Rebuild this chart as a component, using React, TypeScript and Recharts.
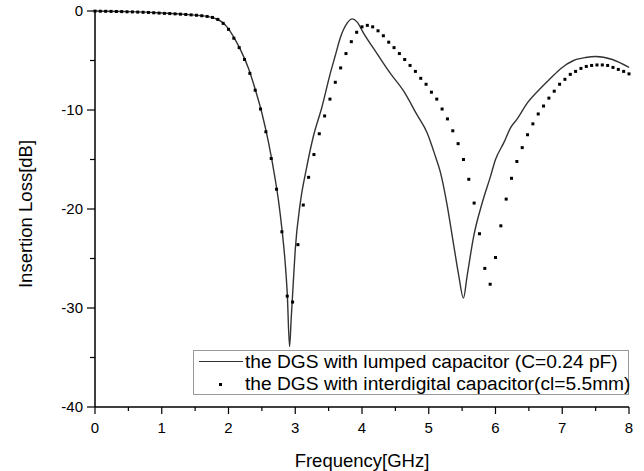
import { ComposedChart, Line, Scatter, XAxis, YAxis } from 'recharts'

// lumped capacitor curve (solid)
const lumpedFreq = [
  0, 0.5, 1.0, 1.4, 1.6, 1.7, 1.8, 1.9, 2.0, 2.1, 2.2, 2.3, 2.4, 2.5, 2.6, 2.7, 2.75, 2.8, 2.85, 2.88,
  2.915, 2.94, 2.97, 3.0, 3.075, 3.165, 3.27, 3.4, 3.525, 3.6, 3.675, 3.775, 3.855, 3.925, 4.025, 4.225,
  4.425, 4.625, 4.825, 4.975, 5.1, 5.175, 5.27, 5.375, 5.45, 5.52, 5.575, 5.675, 5.8, 5.925, 6.0, 6.125,
  6.225, 6.325, 6.475, 6.675, 6.825, 6.98, 7.17, 7.35, 7.5, 7.75, 8.0,
]
const lumpedLoss = [
  0, -0.06, -0.2, -0.37, -0.48, -0.57, -0.75, -1.1, -1.8, -2.9, -4.2, -5.8, -7.9, -10.3, -13.3, -17.0, -19.2, -22.0, -25.5, -28.5,
  -33.9, -31.0, -27.5, -24.1, -19.4, -16.0, -12.7, -9.7, -6.3, -4.5, -2.7, -1.25, -0.8, -1.1, -2.25, -4.3,
  -6.3, -8.1, -10.5, -12.3, -14.7, -16.3, -19.4, -23.7, -26.75, -29.0, -26.75, -22.7, -19.4, -16.7, -15.0, -13.3,
  -11.8, -10.9, -9.3, -7.8, -6.8, -5.8, -5.0, -4.7, -4.6, -4.9, -5.7,
]

// interdigital capacitor curve (dots)
const interFreq = [
  0, 0.08, 0.16, 0.24, 0.32, 0.4, 0.48, 0.56, 0.64, 0.72, 0.8, 0.88, 0.96, 1.04, 1.12, 1.2, 1.28, 1.36, 1.44, 1.52,
  1.6, 1.68, 1.76, 1.84, 1.92, 2.0, 2.08, 2.16, 2.24, 2.32, 2.4, 2.48, 2.56, 2.64, 2.72, 2.8, 2.88, 2.96, 3.04, 3.12,
  3.2, 3.28, 3.36, 3.44, 3.52, 3.6, 3.68, 3.76, 3.84, 3.92, 4.0, 4.08, 4.16, 4.24, 4.32, 4.4, 4.48, 4.56, 4.64, 4.72,
  4.8, 4.88, 4.96, 5.04, 5.12, 5.2, 5.28, 5.36, 5.44, 5.52, 5.6, 5.68, 5.76, 5.84, 5.92, 6.0, 6.08, 6.16, 6.24, 6.32,
  6.4, 6.48, 6.56, 6.64, 6.72, 6.8, 6.88, 6.96, 7.04, 7.12, 7.2, 7.28, 7.36, 7.44, 7.52, 7.6, 7.68, 7.76, 7.84, 7.92,
  8.0,
]
const interLoss = [
  -0.01, -0.02, -0.03, -0.04, -0.05, -0.06, -0.08, -0.09, -0.11, -0.13, -0.15, -0.18, -0.21, -0.24, -0.26, -0.29, -0.32, -0.35, -0.39, -0.43,
  -0.48, -0.55, -0.65, -0.85, -1.25, -1.85, -2.75, -3.7, -4.9, -6.3, -8.0, -9.9, -12.2, -14.9, -18.0, -22.3, -28.8, -29.4, -23.6, -19.6,
  -16.8, -14.5, -12.4, -10.6, -8.9, -7.2, -5.75, -4.3, -3.1, -2.15, -1.6, -1.45, -1.6, -2.0, -2.5, -3.15, -3.7, -4.3, -4.9, -5.5,
  -6.1, -6.8, -7.4, -8.2, -8.9, -9.9, -10.9, -12.1, -13.4, -15.0, -17.0, -19.4, -22.5, -26.0, -27.6, -24.9, -21.7, -19.0, -16.9, -15.2,
  -13.8, -12.5, -11.4, -10.4, -9.6, -8.8, -8.1, -7.4, -6.9, -6.4, -6.1, -5.8, -5.6, -5.5, -5.45, -5.45, -5.5, -5.7, -5.9, -6.1,
  -6.35,
]

const xTicks = [0, 0.5, 1, 1.5, 2, 2.5, 3, 3.5, 4, 4.5, 5, 5.5, 6, 6.5, 7, 7.5, 8]
const yTicks = [-40, -35, -30, -25, -20, -15, -10, -5, 0]

const lumpedData = lumpedFreq.map((f, i) => ({ f, loss: lumpedLoss[i] }))
const interData = interFreq.map((f, i) => ({ f, loss: interLoss[i] }))

const FONT = '"Liberation Sans", Arial, sans-serif'

function XTick({ x, y, payload }: any) {
  const major = Number.isInteger(payload.value)
  return (
    <g>
      <line x1={x} x2={x} y1={y} y2={y + (major ? 7 : 4)} stroke="#000" strokeWidth={1.2} />
      {major && (
        <text x={x} y={y + 26} textAnchor="middle" fontSize={15} fontFamily={FONT} fill="#000">
          {payload.value}
        </text>
      )}
    </g>
  )
}

function YTick({ x, y, payload }: any) {
  const major = payload.value % 10 === 0
  return (
    <g>
      <line x1={x} x2={x - (major ? 8 : 5)} y1={y} y2={y} stroke="#000" strokeWidth={1.2} />
      {major && (
        <text x={x - 12} y={y + 5} textAnchor="end" fontSize={15} fontFamily={FONT} fill="#000">
          {payload.value}
        </text>
      )}
    </g>
  )
}

function YTitle() {
  return (
    <text
      x={32}
      y={214}
      transform="rotate(-90 32 214)"
      textAnchor="middle"
      fontSize={18.5}
      fontFamily={FONT}
      fill="#000"
    >
      Insertion Loss[dB]
    </text>
  )
}

function Square({ cx, cy }: any) {
  return <rect x={cx - 1.5} y={cy - 1.5} width={3} height={3} fill="#000" />
}

export default function App() {
  return (
    <div style={{ position: 'absolute', left: 0, top: 0, width: 644, height: 471, background: '#fff', fontFamily: FONT }}>
      <ComposedChart width={644} height={471} margin={{ top: 11, right: 15, bottom: 0, left: 0 }}>
        <XAxis
          type="number"
          dataKey="f"
          domain={[0, 8]}
          ticks={xTicks}
          interval={0}
          height={64}
          tickSize={0}
          tickMargin={0}
          tickLine={false}
          tick={<XTick />}
          axisLine={{ stroke: '#000', strokeWidth: 1.5 }}
          label={{ value: 'Frequency[GHz]', position: 'insideBottom', offset: 4, fontSize: 18.5, fontFamily: FONT, fill: '#000' }}
        />
        <YAxis
          type="number"
          domain={[-40, 0]}
          ticks={yTicks}
          interval={0}
          width={95}
          tickSize={0}
          tickMargin={0}
          tickLine={false}
          tick={<YTick />}
          axisLine={{ stroke: '#000', strokeWidth: 1.5 }}
          label={() => <YTitle />}
        />
        <Line
          data={lumpedData}
          dataKey="loss"
          type="monotone"
          stroke="#333"
          strokeWidth={1.4}
          dot={false}
          isAnimationActive={false}
        />
        <Scatter data={interData} dataKey="loss" shape={<Square />} isAnimationActive={false} />
      </ComposedChart>
      <div
        style={{
          position: 'absolute',
          left: 193,
          top: 350,
          width: 436,
          height: 45,
          boxSizing: 'border-box',
          border: '1px solid #999',
          background: '#fff',
          fontSize: 19.2,
          color: '#000',
          lineHeight: '22px',
        }}
      >
        <div style={{ position: 'relative', height: 22 }}>
          <span style={{ position: 'absolute', left: 5, top: 10, width: 44, borderTop: '1.4px solid #333' }} />
          <span style={{ position: 'absolute', left: 51, top: 0, whiteSpace: 'nowrap' }}>the DGS with lumped capacitor (C=0.24 pF)</span>
        </div>
        <div style={{ position: 'relative', height: 22 }}>
          <span style={{ position: 'absolute', left: 25, top: 10, width: 3, height: 3, background: '#000' }} />
          <span style={{ position: 'absolute', left: 51, top: 0, whiteSpace: 'nowrap' }}>the DGS with interdigital capacitor(cl=5.5mm)</span>
        </div>
      </div>
    </div>
  )
}
